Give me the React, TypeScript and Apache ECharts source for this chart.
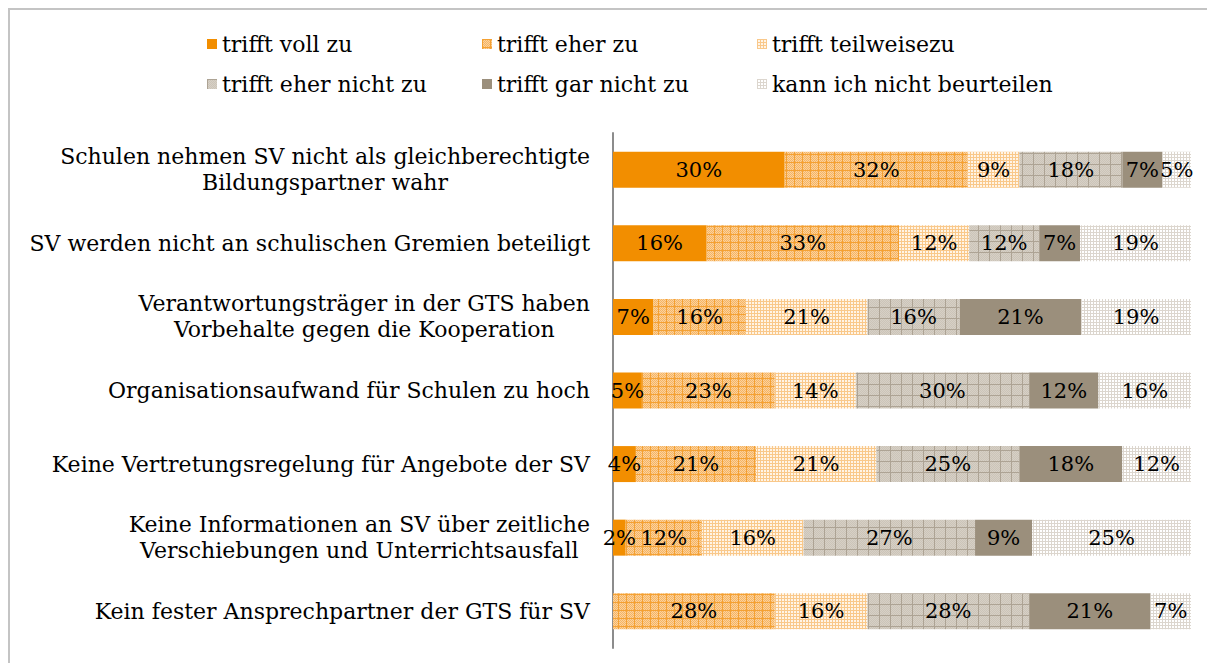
import React, { useEffect, useRef } from "react";
import * as echarts from "echarts";

const categories = [
  "Schulen nehmen SV nicht als gleichberechtigte\nBildungspartner wahr",
  "SV werden nicht an schulischen Gremien beteiligt",
  "Verantwortungsträger in der GTS haben\nVorbehalte gegen die Kooperation",
  "Organisationsaufwand für Schulen zu hoch",
  "Keine Vertretungsregelung für Angebote der SV",
  "Keine Informationen an SV über zeitliche\nVerschiebungen und Unterrichtsausfall",
  "Kein fester Ansprechpartner der GTS für SV",
];

const seriesNames = [
  "trifft voll zu",
  "trifft eher zu",
  "trifft teilweisezu",
  "trifft eher nicht zu",
  "trifft gar nicht zu",
  "kann ich nicht beurteilen",
];

const vollZu = [30, 16, 7, 5, 4, 2, 0];
const eherZu = [32, 33, 16, 23, 21, 12, 28];
const teilweise = [9, 12, 21, 14, 21, 16, 16];
const eherNicht = [18, 12, 16, 30, 25, 27, 28];
const garNicht = [7, 7, 21, 12, 18, 9, 21];
const nichtBeurteilen = [5, 19, 19, 16, 12, 25, 7];

const allValues = [vollZu, eherZu, teilweise, eherNicht, garNicht, nichtBeurteilen];

const FONT = "'DejaVu Serif', serif";

function makePattern(
  size: number,
  draw: (ctx: CanvasRenderingContext2D, s: number) => void
) {
  const c = document.createElement("canvas");
  c.width = size;
  c.height = size;
  const ctx = c.getContext("2d")!;
  draw(ctx, size);
  return { image: c, repeat: "repeat", imageWidth: size, imageHeight: size } as any;
}

export default function App() {
  const ref = useRef<HTMLDivElement>(null);
  useEffect(() => {
    if (!ref.current) return;
    const chart = echarts.init(ref.current, null, { renderer: "svg" });

    const patEher = makePattern(8, (ctx, s) => {
      ctx.fillStyle = "#FAD29E";
      ctx.fillRect(0, 0, s, s);
      ctx.fillStyle = "#F7B462";
      for (let y = 0; y < s; y++)
        for (let x = 0; x < s; x++) if ((x + y) % 2 === 0) ctx.fillRect(x, y, 1, 1);
      ctx.fillStyle = "#F4A133";
      ctx.fillRect(0, 0, s, 1);
      ctx.fillRect(0, 0, 1, s);
    });
    const patTeil = makePattern(3, (ctx, s) => {
      ctx.fillStyle = "#FFF4E6";
      ctx.fillRect(0, 0, s, s);
      ctx.fillStyle = "#F9C88A";
      ctx.fillRect(0, 0, s, 1);
      ctx.fillRect(0, 0, 1, s);
    });
    const patEherNicht = makePattern(11, (ctx, s) => {
      ctx.fillStyle = "#D6D0C6";
      ctx.fillRect(0, 0, s, s);
      ctx.fillStyle = "#CCC4B8";
      for (let y = 0; y < s; y++)
        for (let x = 0; x < s; x++) if ((x + y) % 2 === 0) ctx.fillRect(x, y, 1, 1);
      ctx.fillStyle = "#ADA394";
      ctx.fillRect(0, 0, s, 1);
      ctx.fillRect(0, 0, 1, s);
    });
    const patNicht = makePattern(3, (ctx, s) => {
      ctx.fillStyle = "#FFFFFF";
      ctx.fillRect(0, 0, s, s);
      ctx.fillStyle = "#DCD6CE";
      ctx.fillRect(0, 0, s, 1);
      ctx.fillRect(0, 0, 1, s);
    });

    const colors: any[] = ["#F28E00", patEher, patTeil, patEherNicht, "#9B8F7C", patNicht];

    const rowSums = categories.map((_, i) =>
      allValues.reduce((acc, arr) => acc + arr[i], 0)
    );

    const series = seriesNames.map((name, si) => ({
      name,
      type: "bar",
      stack: "total",
      barWidth: 36,
      itemStyle: { color: colors[si] },
      label: {
        show: true,
        position: "inside",
        color: "#000",
        fontFamily: FONT,
        fontSize: 21,
        formatter: (p: any) => {
          const v = allValues[si][p.dataIndex];
          return v > 0 ? v + "%" : "";
        },
      },
      data: allValues[si].map((v, i) => (v / rowSums[i]) * 100),
    }));

    const legendPos = [
      [197, 23],
      [472, 23],
      [747, 23],
      [197, 63],
      [472, 63],
      [747, 63],
    ];

    chart.setOption({
      animation: false,
      legend: seriesNames.map((n, i) => ({
        data: [n],
        left: legendPos[i][0],
        top: legendPos[i][1],
        padding: 0,
        icon: "rect",
        itemWidth: 10,
        itemHeight: 10,
        selectedMode: false,
        textStyle: { fontFamily: FONT, fontSize: 22, color: "#000" },
      })),
      grid: { left: 603, top: 123, width: 578, height: 515 },
      xAxis: {
        type: "value",
        min: 0,
        max: 100,
        show: false,
      },
      yAxis: {
        type: "category",
        inverse: true,
        data: categories,
        axisLine: { show: true, lineStyle: { color: "#8C8C8C", width: 2 } },
        axisTick: { show: false },
        axisLabel: {
          margin: 23,
          align: "right",
          formatter: (v: string) =>
            v
              .split("\n")
              .map((l) => "{c|" + l + "}")
              .join("\n"),
          rich: {
            c: {
              align: "center",
              fontFamily: FONT,
              fontSize: 22,
              lineHeight: 26,
              color: "#000",
            },
          },
        },
      },
      series,
    });
    return () => chart.dispose();
  }, []);

  return (
    <div
      style={{
        width: 1199,
        height: 655,
        boxSizing: "border-box",
        borderTop: "2px solid #C4C4C4",
        borderLeft: "2px solid #C4C4C4",
      }}
    >
      <div ref={ref} style={{ width: 1197, height: 653 }} />
    </div>
  );
}
